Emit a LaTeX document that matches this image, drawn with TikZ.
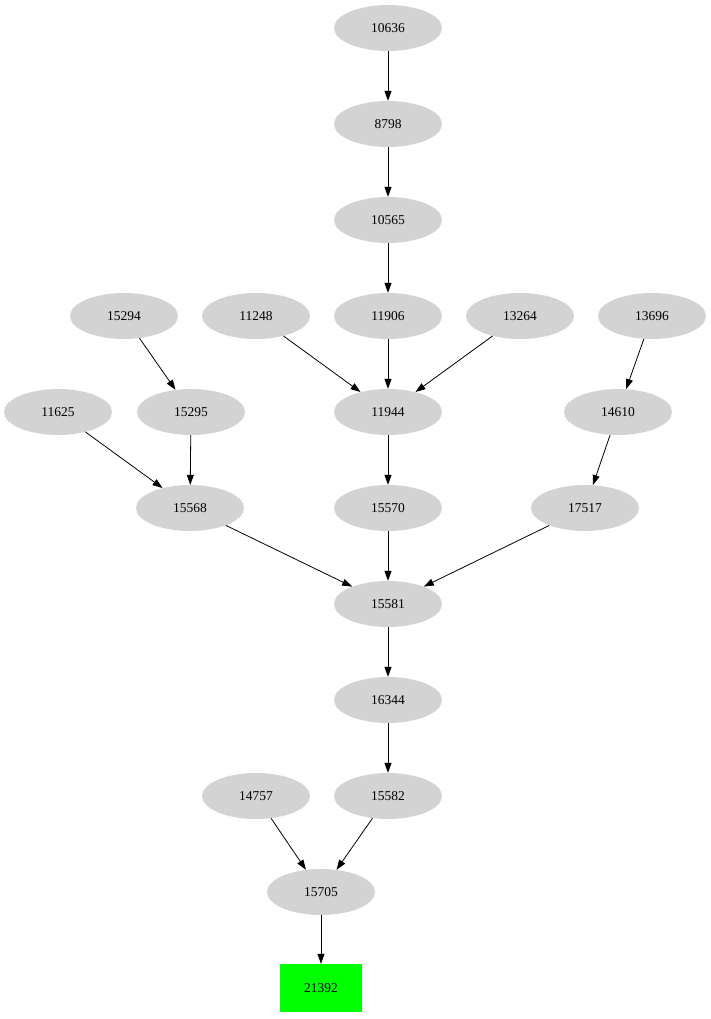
\documentclass[tikz,border=0pt]{standalone}
\usepackage{fontspec}
\setmainfont{Liberation Serif}
\usetikzlibrary{shapes.geometric,arrows.meta}
\begin{document}
\begin{tikzpicture}[x=1pt,y=-1pt,
  el/.style={ellipse,fill={rgb,255:red,211;green,211;blue,211},minimum width=108pt,minimum height=46pt,inner sep=0pt,font=\fontsize{13.5}{15}\selectfont},
  bx/.style={rectangle,fill={rgb,255:red,0;green,255;blue,0},minimum width=82pt,minimum height=48pt,inner sep=0pt,font=\fontsize{13.5}{15}\selectfont},
  ar/.style={-{Triangle[length=10pt,width=7pt]},line width=0.8pt}]
\useasboundingbox (0,0) rectangle (711,1019);
\node[el] (a10636) at (388,28) {10636};
\node[el] (a8798) at (388,124) {8798};
\node[el] (a10565) at (388,220) {10565};
\node[el] (a15294) at (124,316) {15294};
\node[el] (a11248) at (256,316) {11248};
\node[el] (a11906) at (388,316) {11906};
\node[el] (a13264) at (520,316) {13264};
\node[el] (a13696) at (652,316) {13696};
\node[el] (a11625) at (58,412) {11625};
\node[el] (a15295) at (191,412) {15295};
\node[el] (a11944) at (388,412) {11944};
\node[el] (a14610) at (618,412) {14610};
\node[el] (a15568) at (190,508) {15568};
\node[el] (a15570) at (388,508) {15570};
\node[el] (a17517) at (585,508) {17517};
\node[el] (a15581) at (388,604) {15581};
\node[el] (a16344) at (388,700) {16344};
\node[el] (a14757) at (256,796) {14757};
\node[el] (a15582) at (388,796) {15582};
\node[el] (a15705) at (321,892) {15705};
\node[bx] (a21392) at (321,988) {21392};
\draw[ar] (a10636) -- (a8798);
\draw[ar] (a8798) -- (a10565);
\draw[ar] (a10565) -- (a11906);
\draw[ar] (a15294) -- (a15295);
\draw[ar] (a11248) -- (a11944);
\draw[ar] (a11906) -- (a11944);
\draw[ar] (a13264) -- (a11944);
\draw[ar] (a13696) -- (a14610);
\draw[ar] (a11625) -- (a15568);
\draw[ar] (a15295) -- (a15568);
\draw[ar] (a11944) -- (a15570);
\draw[ar] (a14610) -- (a17517);
\draw[ar] (a15568) -- (a15581);
\draw[ar] (a15570) -- (a15581);
\draw[ar] (a17517) -- (a15581);
\draw[ar] (a15581) -- (a16344);
\draw[ar] (a16344) -- (a15582);
\draw[ar] (a14757) -- (a15705);
\draw[ar] (a15582) -- (a15705);
\draw[ar] (a15705) -- (a21392);
\end{tikzpicture}
\end{document}
